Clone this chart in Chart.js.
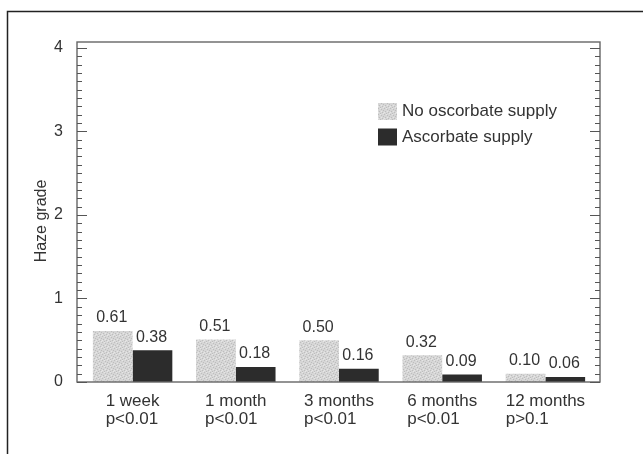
<!DOCTYPE html>
<html>
<head>
<meta charset="utf-8">
<script src="https://cdn.jsdelivr.net/npm/chart.js@4"></script>
<style>
html,body{margin:0;padding:0;background:#fff;}
#wrap{width:643px;height:454px;position:relative;}
</style>
</head>
<body>
<div id="wrap"><canvas id="c" width="643" height="454"></canvas></div>
<script>
// ---- data ----
const periods = ['1 week', '1 month', '3 months', '6 months', '12 months'];
const pValues = ['p<0.01', 'p<0.01', 'p<0.01', 'p<0.01', 'p>0.1'];
const noAscorbate = [0.61, 0.51, 0.50, 0.32, 0.10];
const withAscorbate = [0.38, 0.18, 0.16, 0.09, 0.06];
const seriesNames = ['No oscorbate supply', 'Ascorbate supply'];
const yTickValues = [0, 1, 2, 3, 4];
const yAxisTitle = 'Haze grade';

const FONT = '"Liberation Sans", Arial, sans-serif';
const TEXT = '#333';

// stipple pattern for the light bars (deterministic)
function stipple() {
  const p = document.createElement('canvas');
  p.width = 6; p.height = 6;
  const g = p.getContext('2d');
  g.fillStyle = '#d6d6d6'; g.fillRect(0, 0, 6, 6);
  g.fillStyle = '#bdbdbd';
  [[0,0],[3,1],[1,3],[4,4],[5,2],[2,5]].forEach(([x,y]) => g.fillRect(x, y, 1, 1));
  g.fillStyle = '#e6e6e6';
  [[2,0],[5,5],[0,4],[3,3]].forEach(([x,y]) => g.fillRect(x, y, 1, 1));
  return document.getElementById('c').getContext('2d').createPattern(p, 'repeat');
}
const lightFill = stipple();
const darkFill = '#2c2c2c';

const FRAME_L = 4, FRAME_R = 3; // frame sits slightly outside the bar area

const decor = {
  id: 'decor',
  afterDatasetsDraw(chart) {
    const ctx = chart.ctx;
    const a = chart.chartArea;
    const y = chart.scales.y;
    const x = chart.scales.x;
    const fl = a.left - FRAME_L, fr = a.right + FRAME_R;
    ctx.save();
    // outer figure frame (left & top only)
    ctx.strokeStyle = '#222';
    ctx.lineWidth = 1.5;
    ctx.beginPath();
    ctx.moveTo(7.5, 454); ctx.lineTo(7.5, 11.5); ctx.lineTo(643, 11.5);
    ctx.stroke();

    // plot frame
    ctx.strokeStyle = '#666';
    ctx.lineWidth = 1.4;
    ctx.strokeRect(fl, a.top, fr - fl, a.bottom - a.top);

    // minor/major ticks on left and right axes
    ctx.lineWidth = 1;
    ctx.strokeStyle = '#555';
    for (let k = 0; k <= 40; k++) {
      const py = Math.round(y.getPixelForValue(k / 10)) + 0.5;
      const len = (k % 10 === 0) ? 10 : 5;
      ctx.beginPath();
      ctx.moveTo(fl, py); ctx.lineTo(fl + len, py);
      ctx.moveTo(fr, py); ctx.lineTo(fr - len, py);
      ctx.stroke();
    }

    // data labels
    ctx.fillStyle = TEXT;
    ctx.font = '16px ' + FONT;
    ctx.textAlign = 'center';
    ctx.textBaseline = 'bottom';
    chart.data.datasets.forEach((ds, di) => {
      const meta = chart.getDatasetMeta(di);
      meta.data.forEach((bar, i) => {
        ctx.fillText(ds.data[i].toFixed(2), bar.x - 1, bar.y - 5);
      });
    });

    // x category labels (two lines, left-aligned block centred on first line)
    ctx.font = '17px ' + FONT;
    ctx.textAlign = 'left';
    ctx.textBaseline = 'middle';
    periods.forEach((lab, i) => {
      const cx = x.getPixelForValue(i);
      const w = ctx.measureText(lab).width;
      const lx = cx - w / 2;
      ctx.fillText(lab, lx, a.bottom + 19);
      ctx.fillText(pValues[i], lx, a.bottom + 37);
    });

    // y axis title
    ctx.save();
    ctx.translate(42, (a.top + a.bottom) / 2 + 9);
    ctx.rotate(-Math.PI / 2);
    ctx.textAlign = 'center';
    ctx.textBaseline = 'middle';
    ctx.font = '16px ' + FONT;
    ctx.fillText(yAxisTitle, 0, 0);
    ctx.restore();

    // legend
    const lx = 378, rows = [111.5, 137];
    chart.data.datasets.forEach((ds, di) => {
      ctx.fillStyle = ds.backgroundColor;
      ctx.fillRect(lx, rows[di] - 8.5, 19, 17);
      ctx.fillStyle = TEXT;
      ctx.font = '17px ' + FONT;
      ctx.textAlign = 'left';
      ctx.textBaseline = 'middle';
      ctx.fillText(ds.label, lx + 24, rows[di]);
    });
    ctx.restore();
  }
};

new Chart(document.getElementById('c'), {
  type: 'bar',
  data: {
    labels: periods,
    datasets: [
      { label: seriesNames[0], data: noAscorbate, backgroundColor: lightFill, borderWidth: 0 },
      { label: seriesNames[1], data: withAscorbate, backgroundColor: darkFill, borderWidth: 0 }
    ]
  },
  options: {
    responsive: false,
    animation: false,
    devicePixelRatio: 1,
    categoryPercentage: 0.77,
    barPercentage: 1.0,
    layout: { padding: { top: 42, right: 46, left: 0, bottom: 0 } },
    plugins: { legend: { display: false }, tooltip: { enabled: false } },
    scales: {
      x: {
        grid: { display: false },
        border: { display: false },
        ticks: { display: false },
        afterFit(s) { s.height = 72; }
      },
      y: {
        min: 0,
        max: 4.07,
        grid: { display: false },
        border: { display: false },
        afterBuildTicks(s) { s.ticks = yTickValues.map(v => ({ value: v })); },
        ticks: {
          padding: 10,
          color: TEXT,
          font: { family: FONT, size: 16 },
          callback: v => String(v)
        },
        afterFit(s) { s.width = 81; }
      }
    }
  },
  plugins: [decor]
});
</script>
</body>
</html>
